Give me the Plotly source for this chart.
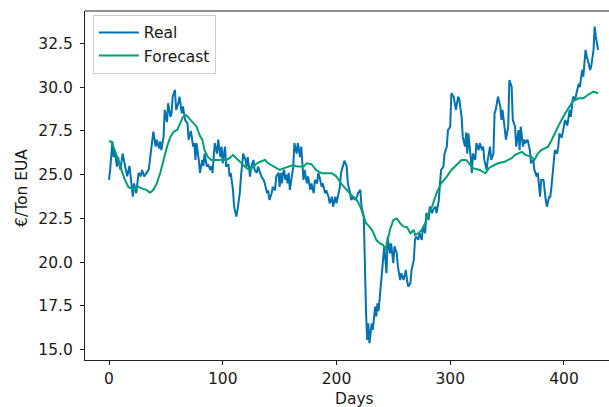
import plotly.graph_objects as go

real_days = [0, 1, 3, 4, 5, 7, 8, 10, 12, 14, 16, 18, 21, 22, 24, 26, 28, 29, 31, 33, 35, 37, 39, 41, 42, 44, 45, 46, 48, 49,
             51, 52, 54, 55, 56, 58, 59, 61, 62, 64, 65, 67, 69, 70, 72, 74, 75, 76, 77, 79, 80, 82, 83, 84, 86, 87, 89, 90, 91, 93,
             95, 96, 98, 99, 100, 102, 103, 105, 106, 107, 109, 110, 112, 113, 115, 116, 118, 120, 121, 122, 124, 125, 127, 128, 130, 131, 133, 134, 136, 137,
             139, 140, 141, 143, 144, 146, 147, 149, 150, 151, 152, 153, 154, 155, 156, 157, 158, 159, 162, 163, 165, 166, 168, 169, 171, 172, 174, 175, 177, 178,
             180, 181, 183, 184, 185, 187, 188, 190, 191, 193, 194, 196, 197, 199, 200, 202, 203, 204, 206, 207, 209, 210, 212, 213, 215, 216, 218, 219, 221, 222,
             224, 225, 226, 227, 228, 229, 231, 232, 234, 235, 236, 237, 238, 239, 241, 242, 244, 245, 247, 248, 250, 251, 253, 254, 256, 257, 259, 261, 262, 263,
             265, 266, 268, 269, 270, 272, 273, 275, 276, 278, 279, 281, 282, 284, 285, 287, 288, 290, 291, 292, 294, 295, 297, 298, 300, 301, 303, 304, 305, 307,
             308, 310, 311, 313, 314, 315, 316, 318, 319, 320, 322, 323, 325, 326, 328, 329, 330, 332, 333, 335, 336, 338, 339, 340, 342, 344, 345, 346, 348, 349,
             351, 352, 354, 355, 357, 358, 360, 361, 362, 364, 365, 366, 368, 370, 371, 373, 374, 376, 377, 379, 380, 382, 384, 385, 387, 388, 389, 391, 392, 394,
             395, 396, 398, 401, 403, 405, 406, 408, 410, 411, 413, 414, 416, 417, 419, 420, 421, 423, 424, 426, 427, 428, 430]
real_values = [24.70, 25.27, 26.9, 26.0, 26.4, 25.46, 26.0, 25.27, 26.2, 25.46, 24.9, 25.5, 23.74, 24.5, 23.94, 25.1, 24.9, 25.27, 24.9, 25.1, 25.3, 26.4, 27.46, 26.6, 27.0, 26.5, 26.9, 26.4, 27.17, 28.7,
               28.0, 29.08, 28.3, 28.5, 29.46, 29.84, 28.7, 29.1, 29.46, 28.5, 28.9, 28.1, 27.94, 27.0, 27.5, 26.6, 26.8, 25.84, 26.8, 25.8, 25.1, 25.84, 25.5, 26.2, 25.46, 25.6, 25.27, 25.5, 25.1, 26.8,
               26.2, 27.0, 26.0, 26.6, 25.65, 26.6, 25.46, 25.6, 24.89, 25.1, 24.13, 23.17, 22.6, 23.0, 23.94, 24.89, 26.2, 25.84, 25.46, 26.0, 24.89, 25.46, 25.84, 25.27, 25.1, 25.46, 25.1, 24.89, 24.7, 24.5,
               23.94, 24.1, 23.55, 23.94, 24.3, 24.1, 24.89, 25.1, 24.3, 25.1, 24.5, 25.1, 25.27, 24.7, 25.0, 24.5, 25.1, 24.13, 25.46, 26.8, 26.2, 26.8, 26.0, 26.6, 24.7, 25.27, 24.5, 24.9, 24.13, 24.5,
               23.94, 24.7, 24.5, 25.1, 24.9, 24.3, 24.5, 23.94, 24.1, 23.74, 23.36, 23.74, 23.17, 23.74, 23.36, 24.13, 24.3, 25.1, 25.65, 25.8, 25.46, 24.5, 23.94, 23.55, 23.74, 23.55, 23.74, 23.94, 24.13, 23.17,
               22.6, 19.37, 17.08, 15.55, 16.5, 15.37, 16.5, 16.13, 17.46, 16.9, 17.65, 17.2, 18.03, 18.6, 20.5, 20.9, 19.37, 21.46, 20.5, 21.08, 19.94, 20.9, 20.5, 19.74, 18.98, 19.37, 18.98, 19.55, 18.98, 18.6,
               18.8, 19.55, 20.13, 21.27, 21.46, 21.27, 21.65, 21.27, 22.03, 21.65, 22.8, 22.41, 23.17, 22.8, 23.0, 23.17, 22.8, 23.55, 24.5, 25.27, 25.46, 26.2, 26.6, 27.55, 27.74, 29.65, 29.46, 29.08, 28.7, 29.46,
               29.3, 28.3, 27.17, 26.6, 27.4, 26.2, 27.36, 26.0, 25.1, 26.2, 25.84, 26.8, 26.4, 26.8, 26.4, 26.6, 25.84, 25.27, 25.84, 26.6, 25.84, 26.2, 28.5, 28.7, 29.46, 28.9, 28.13, 28.7, 27.74, 27.0,
               27.74, 30.41, 30.03, 28.13, 27.74, 26.6, 27.55, 26.4, 27.74, 26.6, 27.0, 26.8, 27.0, 26.4, 25.65, 25.84, 25.27, 24.89, 25.1, 23.74, 24.7, 24.7, 23.55, 23.17, 23.74, 23.74, 24.3, 25.84, 26.4, 26.2,
               26.6, 27.36, 27.1, 28.13, 27.8, 28.7, 28.3, 29.46, 29.3, 29.65, 30.2, 30.0, 30.98, 30.6, 32.13, 31.74, 31.55, 30.98, 31.2, 32.13, 33.46, 32.9, 32.13]

fc_days = [0, 2, 5, 8, 11, 14, 17, 20, 23, 26, 29, 33, 36, 39, 42, 45, 48, 51, 54, 57, 60, 62, 65, 68, 71, 74, 77, 80, 82, 84,
           87, 90, 95, 99, 103, 106, 109, 112, 115, 118, 121, 124, 127, 130, 133, 137, 140, 143, 147, 150, 154, 158, 162, 166, 171, 174, 178, 182, 187, 191,
           196, 200, 204, 209, 213, 218, 221, 224, 226, 229, 232, 235, 238, 241, 243, 245, 247, 250, 253, 256, 259, 262, 265, 268, 269, 272, 275, 278, 281, 284,
           288, 292, 297, 301, 305, 310, 314, 317, 320, 326, 329, 331, 334, 336, 342, 348, 351, 354, 357, 360, 363, 366, 371, 374, 377, 380, 383, 386, 389, 392,
           396, 402, 408, 413, 417, 421, 426, 430]
fc_values = [26.89, 26.89, 26.4, 25.84, 25.27, 24.7, 24.3, 24.2, 24.2, 24.3, 24.2, 24.13, 23.97, 24.13, 24.5, 25.08, 25.84, 26.6, 27.17, 27.46, 27.55, 27.84, 28.3, 28.4, 28.2, 28.0, 27.74, 27.2, 27.0, 26.4,
             26.0, 25.84, 25.84, 25.84, 25.84, 25.94, 26.13, 25.94, 25.74, 25.55, 25.37, 25.27, 25.46, 25.65, 25.74, 25.84, 25.65, 25.55, 25.37, 25.27, 25.37, 25.46, 25.55, 25.46, 25.46, 25.65, 25.6, 25.27, 25.08, 25.08,
             25.08, 24.89, 24.5, 24.13, 23.84, 23.55, 23.17, 22.6, 22.22, 22.03, 21.75, 21.27, 21.08, 20.98, 20.7, 21.27, 21.84, 22.41, 22.5, 22.22, 22.03, 22.0, 21.65, 21.84, 21.55, 21.65, 21.84, 22.22, 22.8, 23.17,
             23.94, 24.5, 24.89, 25.27, 25.55, 25.84, 25.84, 25.6, 25.37, 25.27, 25.17, 25.08, 25.37, 25.46, 25.65, 25.74, 25.84, 25.94, 26.13, 26.2, 26.3, 26.13, 26.03, 25.84, 26.2, 26.4, 26.5, 26.6, 26.95, 27.36,
             27.9, 28.6, 29.2, 29.36, 29.36, 29.55, 29.74, 29.65]

x_ticks = [0, 100, 200, 300, 400]
y_ticks = [15.0, 17.5, 20.0, 22.5, 25.0, 27.5, 30.0, 32.5]
y_tick_text = ["15.0", "17.5", "20.0", "22.5", "25.0", "27.5", "30.0", "32.5"]

font = "DejaVu Sans"
fs = 15.5
txt = "#1a1a1a"
fig = go.Figure()
fig.add_trace(go.Scatter(x=real_days, y=real_values, mode="lines", name="Real",
                         line=dict(color="#0072B2", width=2), legendgroup="a"))
fig.add_trace(go.Scatter(x=fc_days, y=fc_values, mode="lines", name="Forecast",
                         line=dict(color="#009E73", width=2), legendgroup="b"))

fig.update_layout(
    width=609, height=407, autosize=False,
    margin=dict(l=85, r=0, t=11, b=47),
    paper_bgcolor="white", plot_bgcolor="white",
    font=dict(family=font, size=fs, color=txt),
    showlegend=True,
    legend=dict(x=0.015, y=0.989, xanchor="left", yanchor="top", itemwidth=40,
                bgcolor="rgba(255,255,255,0.8)", bordercolor="#cccccc", borderwidth=1,
                font=dict(family=font, size=fs, color=txt), tracegroupgap=0),
    xaxis=dict(range=[-21.1, 439.6], tickvals=x_ticks, showgrid=False, zeroline=False,
               showline=True, linecolor="#222", linewidth=1.2,
               ticks="outside", ticklen=4, tickwidth=1, tickcolor="#222"),
    yaxis=dict(range=[14.41, 34.35], tickvals=y_ticks, ticktext=y_tick_text, showgrid=False, zeroline=False,
               showline=True, linecolor="#222", linewidth=1.2,
               ticks="outside", ticklen=4, tickwidth=1, tickcolor="#222", ticklabelstandoff=4),
    shapes=[dict(type="line", xref="paper", yref="paper", x0=0, x1=1, y0=1, y1=1,
                 line=dict(color="#222", width=1.2))],
    annotations=[
        dict(text="Days", xref="x", yref="paper", x=215.8, y=0, yshift=-39, showarrow=False,
             xanchor="center", yanchor="middle", font=dict(family=font, size=fs, color=txt)),
        dict(text="€/Ton EUA", xref="paper", yref="paper", x=0, xshift=-63, y=0.493, showarrow=False,
             textangle=-90, xanchor="center", yanchor="middle", font=dict(family=font, size=fs, color=txt)),
    ],
)
fig.write_html("out.html", config={"displayModeBar": False},
               post_script="document.body.style.margin='0';document.body.style.overflow='hidden';")
